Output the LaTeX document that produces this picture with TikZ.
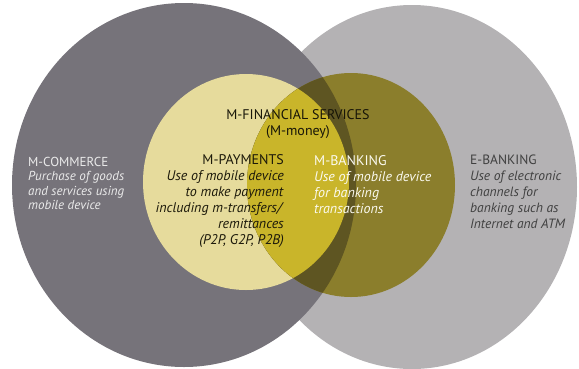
\documentclass[tikz,border=0pt]{standalone}
\usepackage{fontspec}
\setmainfont{PT Sans}
\usepackage{tikz}
\usetikzlibrary{positioning}
\definecolor{commercegrey}{HTML}{76737A}
\definecolor{ebankgrey}{HTML}{B4B2B4}
\definecolor{mfspale}{HTML}{E6DB9C}
\definecolor{mbankolive}{HTML}{8B7E2C}
\definecolor{mbankdark}{HTML}{5E5522}
\definecolor{mbankbright}{HTML}{C9B52A}
\tikzset{block/.style={inner sep=0pt,font=\fontsize{14}{16}\selectfont}}

\begin{document}
\begin{tikzpicture}[x=1pt, y=-1pt]
        \useasboundingbox (0,0) rectangle (579,368);
        % the four circles
        \coordinate (EB) at (412,187);
        \coordinate (MC) at (184,185);
        \coordinate (MF) at (246,182);
        \coordinate (MB) at (351,185);
        \fill[ebankgrey] (EB) ellipse [x radius=165, y radius=182];
        \fill[commercegrey] (MC) ellipse [x radius=172, y radius=182];
        \fill[mfspale] (MF) ellipse [x radius=103, y radius=108];
        \fill[mbankolive] (MB) ellipse [x radius=104, y radius=112];
        \begin{scope}
                \clip (MB) ellipse [x radius=104, y radius=112];
                \fill[mbankdark] (MC) ellipse [x radius=172, y radius=182];
                \fill[mbankbright] (MF) ellipse [x radius=103, y radius=108];
        \end{scope}
        % labels
        \node[block, anchor=north, align=center, text=black!75!mbankdark] (fin) at (298,109)
                {M-FINANCIAL SERVICES\\(M-money)};
        \node[block, anchor=north west, align=left, text=white!92!black,
                font=\fontsize{13}{14.5}\selectfont] (com) at (28,157)
                {M-COMMERCE\\\textit{Purchase of goods}\\\textit{and services using}\\\textit{mobile device}};
        \node[block, anchor=north east, align=right, text=black!70!mbankdark] (pay) at (284,154)
                {M-PAYMENTS\\\textit{Use of mobile device}\\\textit{to make payment}\\\textit{including m-transfers/}\\\textit{remittances}\\\textit{(P2P, G2P, P2B)}};
        \node[block, anchor=north west, align=left, text=white!85!mfspale] (bank) at (314,155)
                {M-BANKING\\\textit{Use of mobile device}\\\textit{for banking}\\\textit{transactions}};
        \node[block, anchor=north west, align=left, text=black!75,
                font=\fontsize{13.5}{16}\selectfont] (ebank) at (470,155)
                {E-BANKING\\\textit{Use of electronic}\\\textit{channels for}\\\textit{banking such as}\\\textit{Internet and ATM}};
\end{tikzpicture}
\end{document}
